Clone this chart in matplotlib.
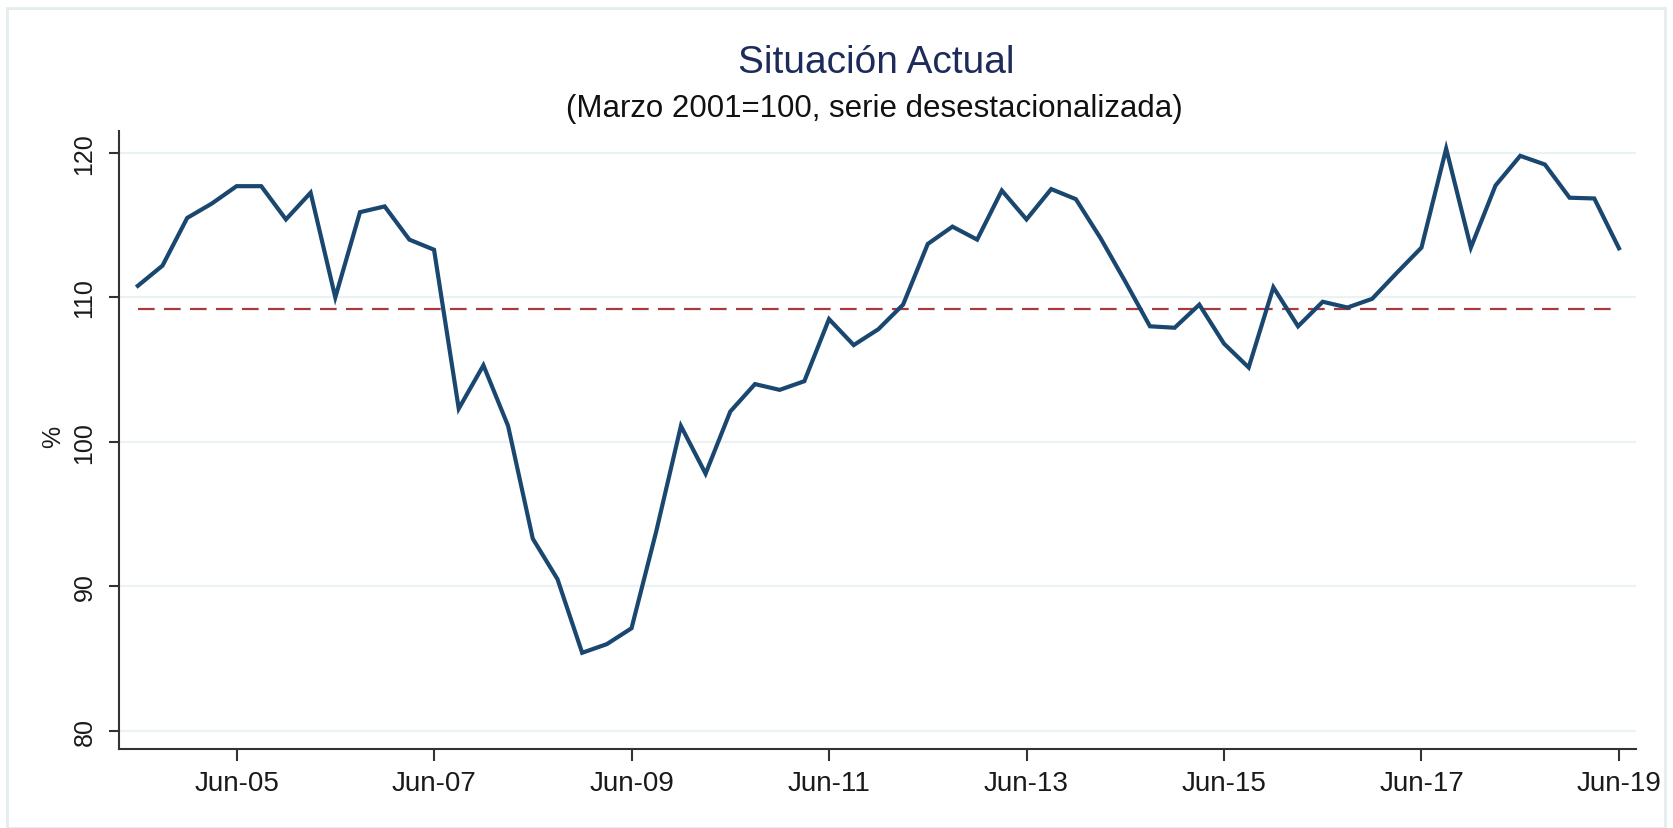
import matplotlib
matplotlib.use("Agg")
import matplotlib.pyplot as plt
import numpy as np
from matplotlib.patches import Rectangle

# Quarterly series, Jun-2004 .. Jun-2019
quarters = ["Jun-04", "Sep-04", "Dec-04",
            "Mar-05", "Jun-05", "Sep-05", "Dec-05",
            "Mar-06", "Jun-06", "Sep-06", "Dec-06",
            "Mar-07", "Jun-07", "Sep-07", "Dec-07",
            "Mar-08", "Jun-08", "Sep-08", "Dec-08",
            "Mar-09", "Jun-09", "Sep-09", "Dec-09",
            "Mar-10", "Jun-10", "Sep-10", "Dec-10",
            "Mar-11", "Jun-11", "Sep-11", "Dec-11",
            "Mar-12", "Jun-12", "Sep-12", "Dec-12",
            "Mar-13", "Jun-13", "Sep-13", "Dec-13",
            "Mar-14", "Jun-14", "Sep-14", "Dec-14",
            "Mar-15", "Jun-15", "Sep-15", "Dec-15",
            "Mar-16", "Jun-16", "Sep-16", "Dec-16",
            "Mar-17", "Jun-17", "Sep-17", "Dec-17",
            "Mar-18", "Jun-18", "Sep-18", "Dec-18",
            "Mar-19", "Jun-19"]
values = [110.8, 112.2, 115.5,
          116.5, 117.7, 117.7, 115.4,
          117.25, 110.0, 115.9, 116.3,
          114.0, 113.3, 102.3, 105.3,
          101.1, 93.3, 90.5, 85.4,
          86.0, 87.1, 93.8, 101.1,
          97.8, 102.1, 104.0, 103.6,
          104.2, 108.5, 106.7, 107.8,
          109.5, 113.7, 114.9, 114.0,
          117.4, 115.4, 117.5, 116.8,
          114.1, 111.1, 108.0, 107.9,
          109.5, 106.8, 105.15, 110.7,
          108.0, 109.7, 109.3, 109.9,
          111.7, 113.45, 120.3, 113.45,
          117.75, 119.8, 119.2, 116.9,
          116.85, 113.4]
average = 109.2
tick_labels = ["Jun-05", "Jun-07", "Jun-09", "Jun-11", "Jun-13",
               "Jun-15", "Jun-17", "Jun-19"]
y_ticks = [80, 90, 100, 110, 120]

plt.rcParams['font.family'] = ['Liberation Sans', 'DejaVu Sans']

W, H = 1673, 829
fig = plt.figure(figsize=(W / 100, H / 100), dpi=100)
fig.patch.set_facecolor("white")

# faint outer frame
fig.patches.append(Rectangle((7 / W, 0), (1665 - 7) / W, 1 - 9 / H,
                             transform=fig.transFigure, fill=False,
                             edgecolor="#e4ecef", linewidth=2))

left, right = 119.3, 1636
bottom, top = 750, 131.7
ax = fig.add_axes([left / W, 1 - bottom / H, (right - left) / W, (bottom - top) / H])

x = np.arange(len(values))
tick_pos = [quarters.index(t) for t in tick_labels]

for yv in y_ticks:
    ax.axhline(yv, color="#eaf2f3", linewidth=1.6, zorder=0)

ax.plot([x[0], x[-1]], [average, average], color="#a83a3f", linewidth=1.6,
        linestyle=(0, (7.5, 4.2)), zorder=2)
ax.plot(x, values, color="#1a476f", linewidth=3.0, zorder=3,
        solid_joinstyle="miter")

ax.set_xlim(-0.75, 60.69)
ax.set_ylim(78.74, 121.54)
ax.set_xticks(tick_pos)
ax.set_xticklabels(tick_labels)
ax.set_yticks(y_ticks)
ax.set_yticklabels([str(v) for v in y_ticks], rotation=90, va="center")

for s in ["top", "right"]:
    ax.spines[s].set_visible(False)
for s in ["left", "bottom"]:
    ax.spines[s].set_color("#333333")
    ax.spines[s].set_linewidth(1.5)

ax.tick_params(axis="x", length=8.4, width=1.5, color="#333333", pad=7,
               labelsize=20, labelcolor="#1a1a1a")
ax.tick_params(axis="y", length=7.5, width=1.5, color="#333333", pad=9,
               labelsize=18, labelcolor="#1a1a1a")

fig.text(53 / W, 1 - 437 / H, "%", rotation=90, ha="center", va="center",
         fontsize=18, color="#1a1a1a")

fig.text(876 / W, 1 - 73 / H, "Situación Actual", ha="center", va="baseline",
         fontsize=28, color="#1c2b5a")
fig.text(874 / W, 1 - 116.7 / H, "(Marzo 2001=100, serie desestacionalizada)",
         ha="center", va="baseline", fontsize=22.5, color="#111111")

fig.savefig("out.png", dpi=100, facecolor="white")
